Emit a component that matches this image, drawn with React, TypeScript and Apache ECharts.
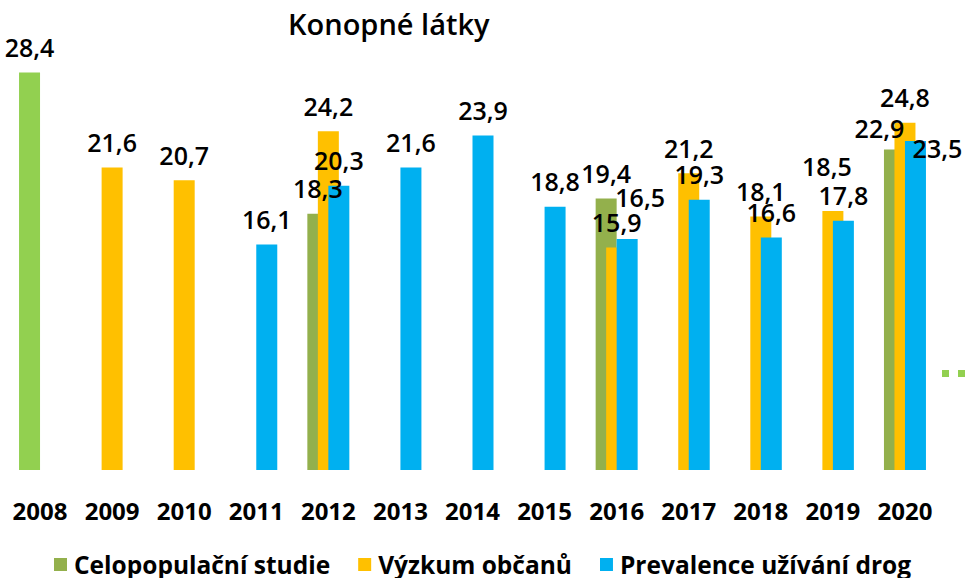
import React, { useEffect, useRef } from "react";
import * as echarts from "echarts";

const years = ["2008", "2009", "2010", "2011", "2012", "2013", "2014", "2015", "2016", "2017", "2018", "2019", "2020"];
const celopopulacni: (number | null)[] = [28.4, null, null, null, 18.3, null, null, null, 19.4, null, null, null, 22.9];
const obcane: (number | null)[] = [null, 21.6, 20.7, null, 24.2, null, null, null, 15.9, 21.2, 18.1, 18.5, 24.8];
const prevalence: (number | null)[] = [null, null, null, 16.1, 20.3, 21.6, 23.9, 18.8, 16.5, 19.3, 16.6, 17.8, 23.5];
const seriesNames = ["Celopopulační studie", "Výzkum občanů", "Prevalence užívání drog"];
const titleText = "Konopné látky";

const FONT = "'Open Sans', 'Noto Sans', sans-serif";
const OLIVE = "#93B04C";
const LIGHTGREEN = "#92D050";
const ORANGE = "#FFC000";
const BLUE = "#00B0F0";

// label nudges for a few points (series index, category index) -> [dx, dy]
const labelNudges: Record<string, [number, number]> = {
  "0-12": [-15, 4],
  "1-11": [-6, -20],
  "2-8": [13, -17],
  "2-12": [22, 32],
};

function buildData(values: (number | null)[], sIdx: number, colorOverride?: Record<number, string>) {
  return values.map((v, i) => {
    if (v === null) return null;
    const item: any = { value: v };
    if (colorOverride && colorOverride[i]) item.itemStyle = { color: colorOverride[i] };
    const n = labelNudges[`${sIdx}-${i}`];
    if (n) item.label = { offset: n };
    return item;
  });
}

export default function App() {
  const ref = useRef<HTMLDivElement>(null);
  useEffect(() => {
    if (!ref.current) return;
    const chart = echarts.init(ref.current, undefined, { renderer: "svg" });
    const labelCfg = {
      show: true,
      position: "top" as const,
      distance: 13,
      color: "#000",
      fontSize: 25,
      fontWeight: 600,
      fontFamily: FONT,
      formatter: (p: any) => Number(p.value).toFixed(1).replace(".", ","),
    };
    const colors = [OLIVE, ORANGE, BLUE];
    const raw = [celopopulacni, obcane, prevalence];
    chart.setOption({
      animation: false,
      backgroundColor: "#fff",
      title: {
        text: titleText,
        left: 283,
        top: 4,
        textStyle: { fontFamily: FONT, fontSize: 29, fontWeight: 600, color: "#000" },
      },
      legend: {
        data: seriesNames,
        top: 552,
        left: "center",
        icon: "rect",
        itemWidth: 13,
        itemHeight: 13,
        itemGap: 28,
        padding: 0,
        textStyle: { fontFamily: FONT, fontSize: 24.5, lineHeight: 24, fontWeight: 700, color: "#000", padding: [0, 0, 0, 2] },
      },
      grid: { left: 4, right: 24, top: 50, bottom: 108, containLabel: false },
      xAxis: {
        type: "category",
        data: years,
        axisLine: { show: false },
        axisTick: { show: false },
        axisLabel: { fontFamily: FONT, fontSize: 24, fontWeight: 700, color: "#000", margin: 28 },
      },
      yAxis: {
        type: "value",
        min: 0,
        max: 30,
        show: false,
        splitLine: { show: false },
      },
      graphic: [
        { type: "rect", left: 942, top: 370, shape: { width: 7, height: 7 }, style: { fill: LIGHTGREEN } },
        { type: "rect", left: 958, top: 370, shape: { width: 7, height: 7 }, style: { fill: LIGHTGREEN } },
      ],
      series: raw.map((vals, s) => ({
        name: seriesNames[s],
        type: "bar",
        barWidth: 21,
        barGap: "-50%",
        itemStyle: { color: colors[s] },
        label: labelCfg,
        data: buildData(vals, s, s === 0 ? { 0: LIGHTGREEN } : undefined),
      })),
    });
    return () => chart.dispose();
  }, []);
  return <div ref={ref} style={{ width: 965, height: 578, position: "absolute", left: 0, top: 0 }} />;
}
